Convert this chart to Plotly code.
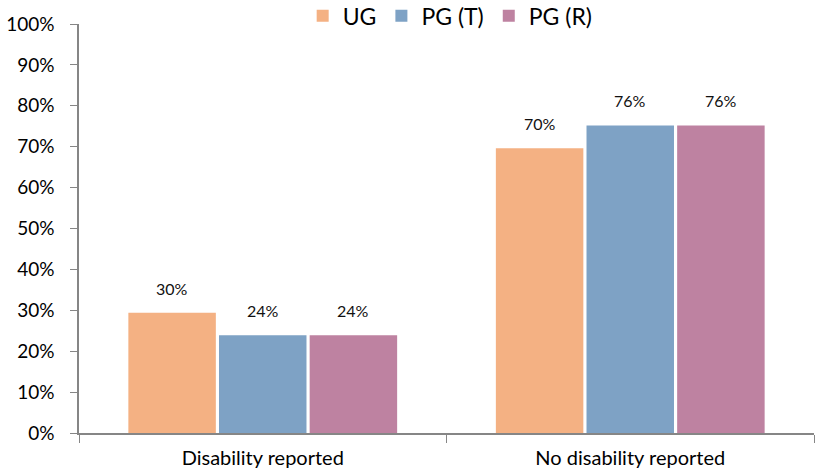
import plotly.graph_objects as go

categories = ["Disability reported", "No disability reported"]
series_names = ["UG", "PG (T)", "PG (R)"]
ug_values = [29.4, 69.6]
pgt_values = [23.9, 75.2]
pgr_values = [23.9, 75.2]
ug_labels = ["30%", "70%"]
pgt_labels = ["24%", "76%"]
pgr_labels = ["24%", "76%"]
y_ticks = [0, 10, 20, 30, 40, 50, 60, 70, 80, 90, 100]
y_tick_labels = [f"{v}%" for v in y_ticks]

colors = ["#F4B183", "#7EA2C5", "#BE82A1"]
FONT = "Lato"

fig = go.Figure()
for i, (name, vals, col) in enumerate(zip(series_names,
                                 [ug_values, pgt_values, pgr_values],
                                 colors)):
    fig.add_trace(go.Bar(
        name=name, x=categories, y=vals, marker=dict(color=col, line=dict(width=0)),
        offsetgroup=str(i), hoverinfo="skip",
    ))

# data labels placed above each bar (x position via bar offsets)
n = len(series_names)
bargap = 0.26
bargroupgap = 0.035
slot = (1 - bargap) / n
for i, (vals, labs) in enumerate(zip([ug_values, pgt_values, pgr_values],
                                     [ug_labels, pgt_labels, pgr_labels])):
    for c, (v, lab) in enumerate(zip(vals, labs)):
        xpos = c - (1 - bargap) / 2 + slot * (i + 0.5)
        fig.add_annotation(x=xpos, y=v, xref="x", yref="y", text=lab,
                           showarrow=False, yanchor="bottom", yshift=13,
                           font=dict(family=FONT, size=16, color="#111"))

fig.update_layout(
    width=817, height=474,
    margin=dict(l=79, r=3, t=24, b=41, autoexpand=False),
    paper_bgcolor="white", plot_bgcolor="white",
    barmode="group", bargap=bargap, bargroupgap=bargroupgap,
    font=dict(family=FONT, size=18, color="#000"),
    showlegend=True,
    legend=dict(orientation="h", x=0.505, xanchor="center", y=1.02, yanchor="middle",
                font=dict(family=FONT, size=23, color="#000"),
                itemwidth=30, tracegroupgap=0, bgcolor="rgba(0,0,0,0)"),
)
fig.update_xaxes(
    type="category",
    showline=True, linecolor="#868686", linewidth=1.5,
    ticks="outside", tickson="boundaries", ticklen=8, tickcolor="#868686",
    tickfont=dict(family=FONT, size=20, color="#000"),
    ticklabelstandoff=6,
    showgrid=False,
)
fig.update_yaxes(
    range=[0, 100], tickvals=y_ticks, ticktext=y_tick_labels,
    showline=True, linecolor="#868686", linewidth=1.5,
    ticks="outside", ticklen=7, tickcolor="#868686",
    tickfont=dict(family=FONT, size=19, color="#000"),
    ticklabelstandoff=12,
    showgrid=False, zeroline=False,
)
fig.write_html("out.html",
               config={"displayModeBar": False},
               post_script="document.body.style.margin='0';document.body.style.overflow='hidden';")
